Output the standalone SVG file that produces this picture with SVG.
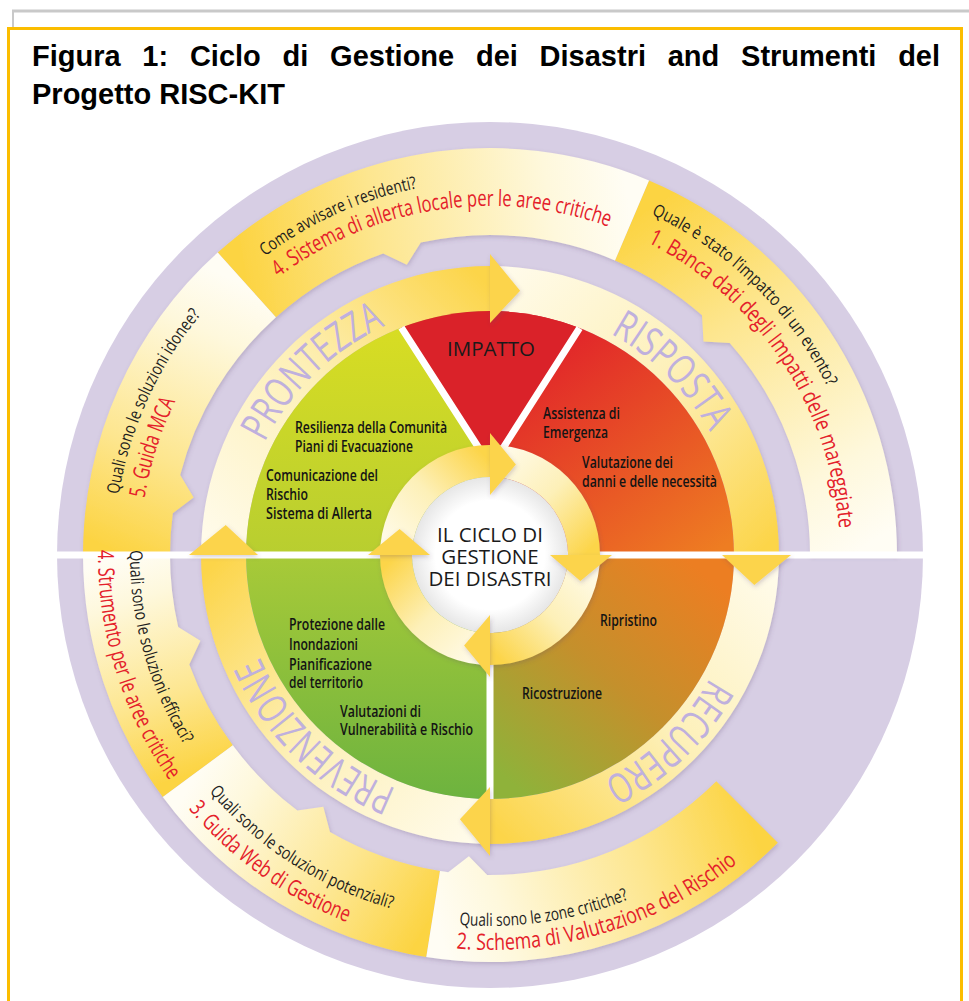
<svg xmlns="http://www.w3.org/2000/svg" width="969" height="1001" viewBox="0 0 969 1001">
<defs>
<style>
.title{font-family:"Liberation Sans",Arial,sans-serif;font-weight:bold;font-size:29px;fill:#000}
.q{font-family:"Open Sans","DejaVu Sans",sans-serif;font-size:17.5px;fill:#1e1e1e}
.t{font-family:"Open Sans","DejaVu Sans",sans-serif;font-size:22.5px;fill:#e4202a}
.ph{font-family:"Open Sans","DejaVu Sans",sans-serif;font-size:41px;font-weight:500;fill:#bfb0dd}
.in{font-family:"Open Sans","DejaVu Sans",sans-serif;font-size:16.5px;font-weight:600;fill:#141414}
.ctr{font-family:"Open Sans","DejaVu Sans",sans-serif;font-size:20.5px;font-weight:500;fill:#1a1a1a;text-anchor:middle}
.sep{stroke:#fff;stroke-width:7;fill:none}
.head{fill:#fcd44c}
</style>
<filter id="sh" x="-10%" y="-10%" width="120%" height="120%"><feDropShadow dx="1" dy="2" stdDeviation="2" flood-color="#5a4a70" flood-opacity="0.25"/></filter>
<linearGradient id="toolG"><stop offset="0" stop-color="#fcd443"/><stop offset="0.35" stop-color="#fde68f"/><stop offset="0.8" stop-color="#fef8dc"/><stop offset="1" stop-color="#fffdf4"/></linearGradient>
<linearGradient id="gS1" href="#toolG" gradientUnits="userSpaceOnUse" x1="631.8" y1="220.9" x2="853" y2="555"/>
<linearGradient id="gS4u" href="#toolG" gradientUnits="userSpaceOnUse" x1="247.1" y1="285.2" x2="631.8" y2="220.9"/>
<linearGradient id="gS5" href="#toolG" gradientUnits="userSpaceOnUse" x1="127" y1="555" x2="247.1" y2="285.2"/>
<linearGradient id="gS4l" href="#toolG" gradientUnits="userSpaceOnUse" x1="198.2" y1="770.9" x2="127" y2="555"/>
<linearGradient id="gS3" href="#toolG" gradientUnits="userSpaceOnUse" x1="433.2" y1="913.5" x2="198.2" y2="770.9"/>
<linearGradient id="gS2" href="#toolG" gradientUnits="userSpaceOnUse" x1="746.7" y1="811.7" x2="433.2" y2="913.5"/>
<linearGradient id="phG"><stop offset="0" stop-color="#fffbea"/><stop offset="0.5" stop-color="#fdf0b8"/><stop offset="1" stop-color="#fcd54a"/></linearGradient>
<linearGradient id="gP1" href="#phG" gradientUnits="userSpaceOnUse" x1="223" y1="555" x2="490" y2="288"/>
<linearGradient id="gP2" href="#phG" gradientUnits="userSpaceOnUse" x1="490" y1="288" x2="756" y2="555"/>
<linearGradient id="gP3" href="#phG" gradientUnits="userSpaceOnUse" x1="756" y1="555" x2="490" y2="822"/>
<linearGradient id="gP4" href="#phG" gradientUnits="userSpaceOnUse" x1="490" y1="822" x2="223" y2="555"/>
<linearGradient id="gC1" href="#phG" gradientUnits="userSpaceOnUse" x1="396" y1="555" x2="490" y2="461"/>
<linearGradient id="gC2" href="#phG" gradientUnits="userSpaceOnUse" x1="490" y1="461" x2="584" y2="555"/>
<linearGradient id="gC3" href="#phG" gradientUnits="userSpaceOnUse" x1="584" y1="555" x2="490" y2="649"/>
<linearGradient id="gC4" href="#phG" gradientUnits="userSpaceOnUse" x1="490" y1="649" x2="396" y2="555"/>
<linearGradient id="gUL" x1="0" y1="0" x2="0" y2="1"><stop offset="0" stop-color="#dade22"/><stop offset="1" stop-color="#b8ce30"/></linearGradient>
<linearGradient id="gUR" gradientUnits="userSpaceOnUse" x1="560" y1="330" x2="720" y2="550"><stop offset="0" stop-color="#e1232a"/><stop offset="1" stop-color="#ee7d22"/></linearGradient>
<linearGradient id="gLR" gradientUnits="userSpaceOnUse" x1="700" y1="570" x2="520" y2="790"><stop offset="0" stop-color="#ec7e22"/><stop offset="0.5" stop-color="#c4902c"/><stop offset="1" stop-color="#8fb23a"/></linearGradient>
<linearGradient id="gLL" x1="0" y1="0" x2="0" y2="1"><stop offset="0" stop-color="#a8ca38"/><stop offset="1" stop-color="#6db33f"/></linearGradient>
<radialGradient id="gW"><stop offset="0.7" stop-color="#ffffff"/><stop offset="1" stop-color="#e6e6e6"/></radialGradient>
<path id="aPR" d="M 238.6 572.6 A 252 252 0 0 1 516.3 304.4"/>
<path id="aRI" d="M 466.7 304.1 A 252 252 0 0 1 741.1 575.6"/>
<path id="aRE" d="M 741.5 538.7 A 252 252 0 0 1 462.4 805.5"/>
<path id="aPV" d="M 516.3 805.6 A 252 252 0 0 1 238.6 537.4"/>
<path id="q4" d="M 118.0 516.6 A 374 374 0 0 1 709.3 252.1"/>
<path id="t4" d="M 164.8 428.2 A 349 349 0 0 1 762.4 336.8"/>
<path id="q1" d="M 388.6 191.9 A 377 377 0 0 1 855.2 648.8"/>
<path id="t1" d="M 466.8 205.8 A 350 350 0 0 1 804.1 709.5"/>
<path id="q5" d="M 183.9 773.3 A 376 376 0 0 1 454.0 180.7"/>
<path id="t5" d="M 231.1 790.6 A 350 350 0 0 1 415.4 213.0"/>
<path id="q4l" d="M 233.2 302.7 A 360 360 0 0 0 399.9 903.5"/>
<path id="t4l" d="M 202.4 288.7 A 392 392 0 0 0 403.2 937.2"/>
<path id="q3" d="M 123.4 537.7 A 367 367 0 0 0 658.3 881.1"/>
<path id="t3" d="M 97.9 516.5 A 394 394 0 0 0 652.8 913.8"/>
<path id="q2" d="M 200.1 786.5 A 371 371 0 0 0 835.4 690.4"/>
<path id="t2" d="M 220.3 843.6 A 395 395 0 0 0 874.8 644.2"/>
</defs>

<rect width="969" height="1001" fill="#fff"/>
<g id="frame">
<line x1="12" y1="11" x2="969" y2="11" stroke="#c9c9c9" stroke-width="3"/>
<line x1="13" y1="11" x2="13" y2="28" stroke="#c9c9c9" stroke-width="2"/>
<rect x="8.5" y="28.5" width="953" height="990" fill="none" stroke="#fbbd00" stroke-width="3"/>
</g>
<g id="title">
<text class="title" x="32" y="66" word-spacing="13.7">Figura 1: Ciclo di Gestione dei Disastri and Strumenti del</text>
<text class="title" x="32" y="104">Progetto RISC-KIT</text>
</g>

<circle id="outer-ring" cx="490" cy="555" r="433" fill="#d7cee4"/>

<g id="tool-sections" filter="url(#sh)">
<path id="tool-1" d="M 649.0 180.4 A 407 407 0 0 1 897 555 L 810 555 A 320 320 0 0 0 729.7 343.0 L 703.5 341.5 L 702.0 315.3 A 320 320 0 0 0 615.0 260.4 Z" fill="url(#gS1)"/>
<path id="tool-4u" d="M 217.7 252.6 A 407 407 0 0 1 649.0 180.4 L 615.0 260.4 A 320 320 0 0 0 420.8 242.6 L 406.8 264.7 L 383.2 253.4 A 320 320 0 0 0 275.9 317.2 Z" fill="url(#gS4u)"/>
<path id="tool-5" d="M 83 555 A 407 407 0 0 1 217.7 252.6 L 275.9 317.2 A 320 320 0 0 0 180.2 474.9 L 193.6 497.4 L 172.8 513.2 A 320 320 0 0 0 170 555 Z" fill="url(#gS5)"/>
<path id="tool-4l" d="M 162.8 797.1 A 407 407 0 0 1 83 555 L 170 555 A 320 320 0 0 0 178.2 627.0 L 200.4 640.8 L 189.3 664.4 A 320 320 0 0 0 232.8 745.3 Z" fill="url(#gS4l)"/>
<path id="tool-3" d="M 426.3 957.0 A 407 407 0 0 1 162.8 797.1 L 232.8 745.3 A 320 320 0 0 0 297.4 810.6 L 323.3 806.8 L 330 832.1 A 320 320 0 0 0 440.0 871.1 Z" fill="url(#gS3)"/>
<path id="tool-2" d="M 777.8 842.8 A 407 407 0 0 1 426.3 957.0 L 440 871.1 A 320 320 0 0 0 448.2 872.2 L 468.9 856.3 L 487.2 875.0 A 320 320 0 0 0 716.3 781.3 Z" fill="url(#gS2)"/>
</g>

<g id="phase-bodies" filter="url(#sh)">
<path d="M 201 555 A 289 289 0 0 1 490 266 L 490 311 A 244 244 0 0 0 246 555 Z" fill="url(#gP1)"/>
<path d="M 490 266 A 289 289 0 0 1 779 555 L 734 555 A 244 244 0 0 0 490 311 Z" fill="url(#gP2)"/>
<path d="M 779 555 A 289 289 0 0 1 490 844 L 490 799 A 244 244 0 0 0 734 555 Z" fill="url(#gP3)"/>
<path d="M 490 844 A 289 289 0 0 1 201 555 L 246 555 A 244 244 0 0 0 490 799 Z" fill="url(#gP4)"/>
</g>

<g id="quadrants">
<path id="q-prontezza" d="M 490 555 L 246 555 A 244 244 0 0 1 490 311 Z" fill="url(#gUL)"/>
<path id="q-risposta" d="M 490 555 L 490 311 A 244 244 0 0 1 734 555 Z" fill="url(#gUR)"/>
<path id="q-recupero" d="M 490 555 L 734 555 A 244 244 0 0 1 490 799 Z" fill="url(#gLR)"/>
<path id="q-prevenzione" d="M 490 555 L 490 799 A 244 244 0 0 1 246 555 Z" fill="url(#gLL)"/>
<path id="q-impatto" d="M 491 467 L 401.4 327.6 A 244 244 0 0 1 579.5 328.1 Z" fill="#da2229"/>
</g>

<g id="separators">
<line class="sep" x1="57" y1="555" x2="923" y2="555"/>
<line class="sep" x1="490" y1="555" x2="490" y2="799"/>
<path class="sep" stroke-width="8" d="M 401.4 327.6 L 491 467 L 579.5 328.1"/>
</g>

<g id="phase-heads" filter="url(#sh)">
<polygon class="head" points="490,254 520.1,290.7 490,323"/>
<polygon class="head" points="791,555 754.3,585.1 722,555"/>
<polygon class="head" points="490,856 459.9,819.3 490,787"/>
<polygon class="head" points="189,555 225.7,524.9 258,555"/>
</g>

<g id="phase-labels">
<text class="ph"><textPath href="#aPR" startOffset="50%" text-anchor="middle" textLength="171" lengthAdjust="spacingAndGlyphs">PRONTEZZA</textPath></text>
<text class="ph"><textPath href="#aRI" startOffset="50%" text-anchor="middle" textLength="142" lengthAdjust="spacingAndGlyphs">RISPOSTA</textPath></text>
<text class="ph"><textPath href="#aRE" startOffset="50%" text-anchor="middle" textLength="150" lengthAdjust="spacingAndGlyphs">RECUPERO</textPath></text>
<text class="ph"><textPath href="#aPV" startOffset="50%" text-anchor="middle" textLength="195" lengthAdjust="spacingAndGlyphs">PREVENZIONE</textPath></text>
</g>

<g id="cycle" filter="url(#sh)">
<path d="M 380 555 A 110 110 0 0 1 490 445 L 490 477 A 78 78 0 0 0 412 555 Z" fill="url(#gC1)"/>
<path d="M 490 445 A 110 110 0 0 1 600 555 L 568 555 A 78 78 0 0 0 490 477 Z" fill="url(#gC2)"/>
<path d="M 600 555 A 110 110 0 0 1 490 665 L 490 633 A 78 78 0 0 0 568 555 Z" fill="url(#gC3)"/>
<path d="M 490 665 A 110 110 0 0 1 380 555 L 412 555 A 78 78 0 0 0 490 633 Z" fill="url(#gC4)"/>
</g>
<circle id="center" cx="490" cy="555" r="78" fill="url(#gW)"/>
<g id="cycle-heads" filter="url(#sh)">
<polygon class="head" points="490,433 515.9,464.6 490,495"/>
<polygon class="head" points="612,555 580.4,580.9 550,555"/>
<polygon class="head" points="490,677 464.1,645.4 490,615"/>
<polygon class="head" points="368,555 399.6,529.1 430,555"/>
</g>

<g id="center-label">
<text class="ctr" x="490" y="542">IL CICLO DI</text>
<text class="ctr" x="490" y="564">GESTIONE</text>
<text class="ctr" x="490" y="586">DEI DISASTRI</text>
</g>

<g id="impatto-label">
<text class="ctr" x="491" y="356" font-size="20" textLength="88" lengthAdjust="spacingAndGlyphs">IMPATTO</text>
</g>

<g id="inner-texts">
<text class="in" x="295" y="433" textLength="152" lengthAdjust="spacingAndGlyphs">Resilienza della Comunità</text>
<text class="in" x="295" y="452" textLength="118" lengthAdjust="spacingAndGlyphs">Piani di Evacuazione</text>
<text class="in" x="266" y="481" textLength="112" lengthAdjust="spacingAndGlyphs">Comunicazione del</text>
<text class="in" x="266" y="500" textLength="42" lengthAdjust="spacingAndGlyphs">Rischio</text>
<text class="in" x="266" y="519" textLength="106" lengthAdjust="spacingAndGlyphs">Sistema di Allerta</text>
<text class="in" x="543" y="419" textLength="77" lengthAdjust="spacingAndGlyphs">Assistenza di</text>
<text class="in" x="543" y="438" textLength="65" lengthAdjust="spacingAndGlyphs">Emergenza</text>
<text class="in" x="582" y="468" textLength="91" lengthAdjust="spacingAndGlyphs">Valutazione dei</text>
<text class="in" x="582" y="487" textLength="135" lengthAdjust="spacingAndGlyphs">danni e delle necessità</text>
<text class="in" x="600" y="626" textLength="57" lengthAdjust="spacingAndGlyphs">Ripristino</text>
<text class="in" x="522" y="699" textLength="80" lengthAdjust="spacingAndGlyphs">Ricostruzione</text>
<text class="in" x="289" y="630" textLength="96" lengthAdjust="spacingAndGlyphs">Protezione dalle</text>
<text class="in" x="289" y="650" textLength="69" lengthAdjust="spacingAndGlyphs">Inondazioni</text>
<text class="in" x="289" y="670" textLength="83" lengthAdjust="spacingAndGlyphs">Pianificazione</text>
<text class="in" x="289" y="688" textLength="74" lengthAdjust="spacingAndGlyphs">del territorio</text>
<text class="in" x="340" y="717" textLength="81" lengthAdjust="spacingAndGlyphs">Valutazioni di</text>
<text class="in" x="340" y="735" textLength="133" lengthAdjust="spacingAndGlyphs">Vulnerabilità e Rischio</text>
</g>

<g id="tool-texts">
<text class="q"><textPath href="#q4" startOffset="50%" text-anchor="middle" textLength="168" lengthAdjust="spacingAndGlyphs">Come avvisare i residenti?</textPath></text>
<text class="t"><textPath href="#t4" startOffset="50%" text-anchor="middle" textLength="348" lengthAdjust="spacingAndGlyphs">4. Sistema di allerta locale per le aree critiche</textPath></text>
<text class="q"><textPath href="#q1" startOffset="50%" text-anchor="middle" textLength="251" lengthAdjust="spacingAndGlyphs">Quale è stato l’impatto di un evento?</textPath></text>
<text class="t"><textPath href="#t1" startOffset="50%" text-anchor="middle" textLength="360" lengthAdjust="spacingAndGlyphs">1. Banca dati degli Impatti delle mareggiate</textPath></text>
<text class="q"><textPath href="#q5" startOffset="50%" text-anchor="middle" textLength="200" lengthAdjust="spacingAndGlyphs">Quali sono le soluzioni idonee?</textPath></text>
<text class="t"><textPath href="#t5" startOffset="50%" text-anchor="middle" textLength="102" lengthAdjust="spacingAndGlyphs">5. Guida MCA</textPath></text>
<text class="q"><textPath href="#q4l" startOffset="50%" text-anchor="middle" textLength="204" lengthAdjust="spacingAndGlyphs">Quali sono le soluzioni efficaci?</textPath></text>
<text class="t"><textPath href="#t4l" startOffset="50%" text-anchor="middle" textLength="245" lengthAdjust="spacingAndGlyphs">4. Strumento per le aree critiche</textPath></text>
<text class="q"><textPath href="#q3" startOffset="50%" text-anchor="middle" textLength="220" lengthAdjust="spacingAndGlyphs">Quali sono le soluzioni potenziali?</textPath></text>
<text class="t"><textPath href="#t3" startOffset="50%" text-anchor="middle" textLength="197" lengthAdjust="spacingAndGlyphs">3. Guida Web di Gestione</textPath></text>
<text class="q"><textPath href="#q2" startOffset="50%" text-anchor="middle" textLength="173" lengthAdjust="spacingAndGlyphs">Quali sono le zone critiche?</textPath></text>
<text class="t"><textPath href="#t2" startOffset="50%" text-anchor="middle" textLength="301" lengthAdjust="spacingAndGlyphs">2. Schema di Valutazione del Rischio</textPath></text>
</g>
</svg>
